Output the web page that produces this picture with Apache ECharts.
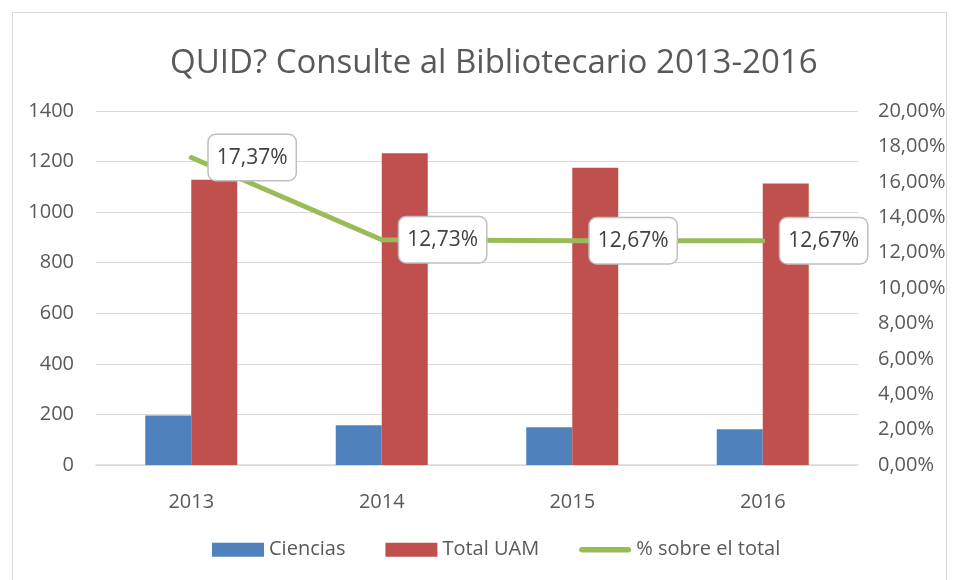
<style>
  body,
  html {
    overflow: hidden;
    width: 100%;
    height: 100%;
    margin: 0;
    padding: 0;
    background: #fff;
  }
  .frame {
    position: absolute;
    left: 12px;
    top: 12px;
    width: 935px;
    height: 580px;
    border: 1px solid #d9d9d9;
    box-sizing: border-box;
  }
  .chart-wrapper {
    position: absolute;
    left: 0;
    top: 0;
    width: 958px;
    height: 580px;
  }
</style>

<div class="frame"></div>
<div id="chart-wrapper" class="chart-wrapper"></div>

<script src="https://cdn.jsdelivr.net/npm/echarts@6/dist/echarts.min.js"></script>

<script>
  const years = ["2013", "2014", "2015", "2016"];
  const ciencias = [196, 157, 149, 141];
  const totalUAM = [1128, 1233, 1176, 1113];
  const pctTotal = [0.1737, 0.1273, 0.1267, 0.1267];

  const font = "Open Sans";
  const textGray = "#595959";

  const fmtPct = (v) => (v * 100).toFixed(2).replace(".", ",") + "%";

  const chart = echarts.init(document.getElementById("chart-wrapper"));

  const option = {
    animation: false,
    textStyle: { fontFamily: font },
    title: {
      text: "QUID? Consulte al Bibliotecario 2013-2016",
      left: 165,
      top: 32,
      textStyle: {
        color: textGray,
        fontSize: 33,
        fontWeight: "normal",
        fontFamily: font,
      },
    },
    legend: {
      bottom: 9,
      left: 207,
      itemGap: 40,
      itemWidth: 52,
      itemHeight: 14,
      textStyle: { color: textGray, fontSize: 20, fontFamily: font },
      data: [
        { name: "Ciencias", icon: "rect" },
        { name: "Total UAM", icon: "rect" },
        {
          name: "% sobre el total",
          icon: "path://M3,0 H53 A3,3 0 0 1 53,6 H3 A3,3 0 0 1 3,0 Z",
        },
      ],
    },
    grid: {
      left: 96,
      right: 100,
      top: 111,
      bottom: 115,
    },
    xAxis: {
      type: "category",
      data: years,
      axisTick: { show: false },
      axisLine: { lineStyle: { color: "#d9d9d9", width: 1.5 } },
      axisLabel: {
        color: textGray,
        fontSize: 20,
        margin: 21,
      },
    },
    yAxis: [
      {
        type: "value",
        min: 0,
        max: 1400,
        interval: 200,
        axisLine: { show: false },
        axisTick: { show: false },
        splitLine: { lineStyle: { color: "#d9d9d9", width: 1 } },
        axisLabel: {
          color: textGray,
          fontSize: 20,
          margin: 22,
          formatter: (v) => String(v),
        },
      },
      {
        type: "value",
        min: 0,
        max: 0.2,
        interval: 0.02,
        axisLine: { show: false },
        axisTick: { show: false },
        splitLine: { show: false },
        axisLabel: {
          color: textGray,
          fontSize: 20,
          margin: 20,
          formatter: fmtPct,
        },
      },
    ],
    series: [
      {
        name: "Ciencias",
        type: "bar",
        data: ciencias,
        barWidth: 46,
        barGap: "0%",
        itemStyle: { color: "#4f81bd" },
      },
      {
        name: "Total UAM",
        type: "bar",
        data: totalUAM,
        barWidth: 46,
        barGap: "0%",
        itemStyle: { color: "#c0504d" },
      },
      {
        name: "% sobre el total",
        type: "line",
        yAxisIndex: 1,
        data: pctTotal,
        symbol: "circle",
        symbolSize: 1,
        showSymbol: true,
        lineStyle: { color: "#9bbb59", width: 5, cap: "round" },
        itemStyle: { color: "#9bbb59" },
        label: {
          show: true,
          position: "right",
          distance: 17,
          formatter: (p) => fmtPct(p.value),
          color: "#404040",
          fontSize: 21,
          fontFamily: font,
          backgroundColor: "#fff",
          borderColor: "#bfbfbf",
          borderWidth: 1.5,
          borderRadius: 7,
          padding: [6, 8, 5, 8],
        },
      },
    ],
  };

  chart.setOption(option);
</script>
